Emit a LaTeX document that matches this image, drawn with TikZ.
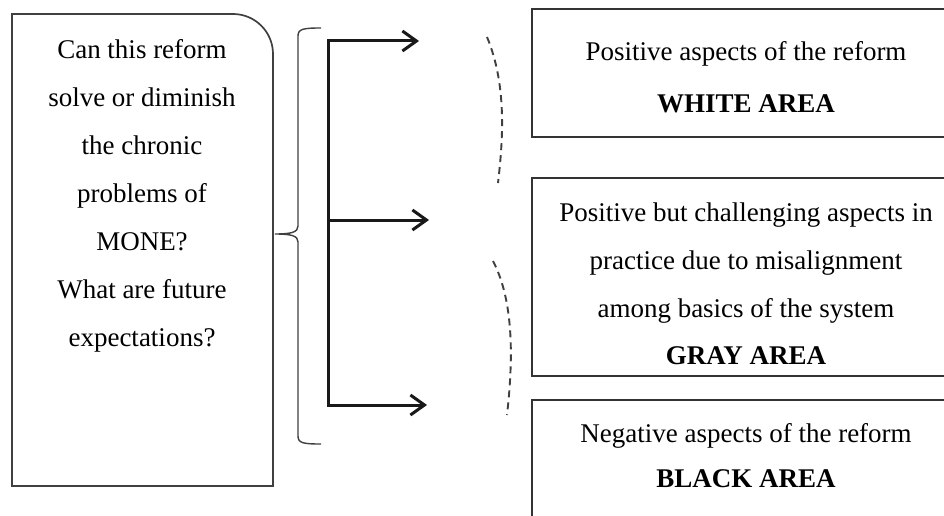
\documentclass[tikz,border=0pt]{standalone}
\usepackage{fontspec}
\setmainfont{Liberation Serif}
\usetikzlibrary{arrows.meta}

\begin{document}
\begin{tikzpicture}[x=1pt, y=-1pt,
    area/.style={draw=black!80, line width=1.7pt, minimum width=428pt, inner sep=0pt},
    words/.style={align=center, font=\fontsize{27}{48}\selectfont, text=black},
    flow/.style={line width=3pt, black!90},
    barb/.tip={Straight Barb[length=14pt, width=20pt]},
    hint/.style={draw=black!75, line width=1.9pt, dash pattern=on 7pt off 5pt}]

    % Canvas, cut off like the original figure
    \clip (0,0) rectangle (944,516);
    \fill[white] (0,0) rectangle (944,516);

    % Question box with one round corner
    \draw[black!75, line width=1.7pt] (12,486) -- (12,14) -- (233,14)
        arc[start angle=90, end angle=0, radius=40pt] -- (273,486) -- cycle;
    \node[words] (question) at (142,196) {Can this reform\\solve or diminish\\the chronic\\problems of\\MONE?\\What are future\\expectations?};

    % Brace
    \draw[black!75, line width=1.4pt] (321,28) .. controls (303,28) and (298,29) .. (298,36)
        -- (298,226) .. controls (298,232) and (292,234) .. (275,234)
        .. controls (292,234) and (298,236) .. (298,242)
        -- (298,436) .. controls (298,443) and (303,444) .. (321,444);

    % Arrows
    \coordinate (t1) at (328,41);
    \coordinate (t2) at (328,220);
    \coordinate (t3) at (328,405);
    \coordinate (a1) at (419,41);
    \coordinate (a2) at (429,220);
    \coordinate (a3) at (427,405);
    \draw[flow, barb-barb] (a1) -- (t1) -- (t3) -- (a3);
    \draw[flow, -barb] (t2) -- (a2);

    % Dashed arcs
    \draw[hint] (487,37) .. controls (507,85) and (503,140) .. (498,183);
    \draw[hint] (493,261) .. controls (516,305) and (512,370) .. (507,415);

    % Answer boxes
    \node[area, minimum height=128pt] (white) at (746,73) {};
    \node[area, minimum height=198pt] (gray) at (746,277) {};
    \node[area, minimum height=160pt] (black) at (746,480) {};

    \node[words] (white text) at (746,77) {Positive aspects of the reform\\[4pt]\textbf{WHITE AREA}};
    \node[words] (gray text) at (746,284) {Positive but challenging aspects in\\practice due to misalignment\\among basics of the system\\[-1pt]\textbf{GRAY AREA}};
    \node[words] (black text) at (746,456) {Negative aspects of the reform\\[-3pt]\textbf{BLACK AREA}};

\end{tikzpicture}
\end{document}
